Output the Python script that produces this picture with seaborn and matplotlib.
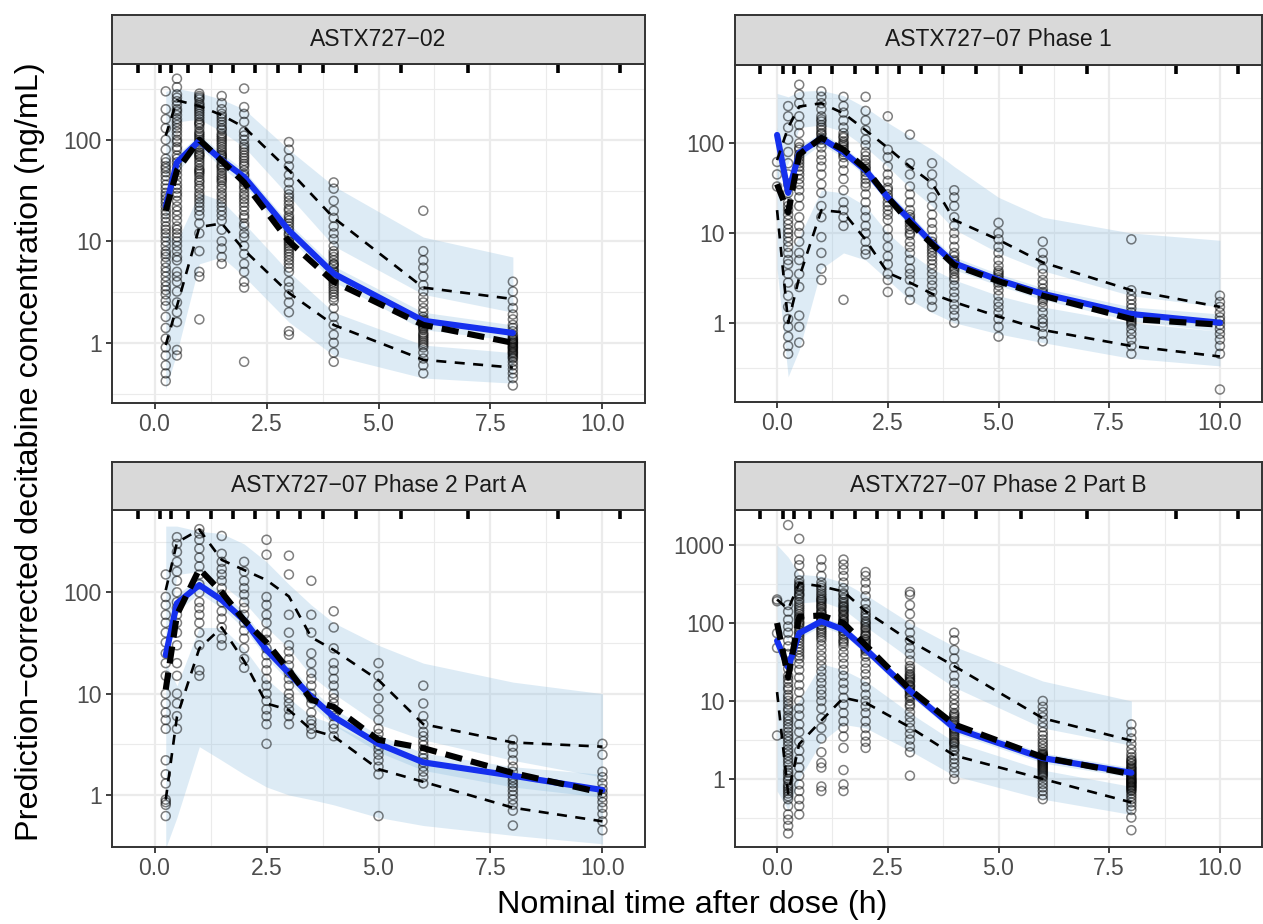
import numpy as np
import pandas as pd
import matplotlib
matplotlib.use("Agg")
import matplotlib.pyplot as plt
import seaborn as sns
from matplotlib.ticker import FixedLocator, FixedFormatter, NullFormatter

sns.set_theme(style="white")
plt.rcParams['font.family'] = ['Liberation Sans', 'DejaVu Sans']

# ---------------- data ----------------
panel_titles = ["ASTX727\u221202", "ASTX727\u221207 Phase 1",
                "ASTX727\u221207 Phase 2 Part A", "ASTX727\u221207 Phase 2 Part B"]
bin_edges = [-0.375, 0.125, 0.375, 0.75, 1.25, 1.75, 2.25, 2.75, 3.25, 3.75, 4.5, 5.5, 7.0, 9.0, 10.4]

# Panel 1: ASTX727-02
t_1 = [0.25, 0.5, 1, 1.5, 2, 3, 4, 6, 8]
simmed_1 = [22, 60, 98, 63, 43, 12.8, 4.8, 1.65, 1.25]
obsmed_1 = [20, 50, 100, 62, 38, 10, 4.0, 1.5, 1.0]
obs95_1 = [110, 245, 215, 175, 133, 50, 17, 3.5, 2.7]
obs05_1 = [0.95, 2.3, 13.8, 15, 8.2, 3.1, 1.5, 0.68, 0.57]
uphi_1 = [300, 320, 290, 250, 200, 80, 35, 11, 7]
uplo_1 = [35, 150, 160, 120, 85, 28, 9, 3.0, 2.0]
mdhi_1 = [30, 72, 112, 74, 50, 15, 5.7, 2.0, 1.5]
mdlo_1 = [15, 48, 85, 53, 36, 10.8, 4.0, 1.35, 1.05]
lohi_1 = [12, 10, 30, 25, 15, 5, 2, 0.95, 0.8]
lolo_1 = [0.35, 0.8, 6, 7, 4.5, 1.6, 0.75, 0.45, 0.4]
pts_1 = {
    0.25: [0.42, 0.5, 0.6, 0.75, 0.9, 1.1, 1.4, 1.8, 2.3, 3, 3.6, 4.5, 5.5, 7, 8, 10, 12, 14, 17, 20,
           24, 28, 33, 40, 48, 55, 65, 80, 100, 130, 160, 200, 300,
           2.6, 3.3, 4.0, 5.0, 6.2, 7.5, 9, 11, 13, 15.5, 18.5, 22, 26, 30, 36, 44, 52, 60],
    0.5: [0.75, 0.85, 1.6, 2, 2.5, 3.2, 4, 5, 6.5, 8, 10, 13, 16, 20, 25, 30, 36, 45, 55, 65, 80, 95,
          110, 130, 150, 175, 200, 240, 280, 330, 400, 12, 18, 28, 40, 60, 85, 120, 160, 220,
          4.5, 7, 9, 11, 14, 22, 33, 50, 70, 100, 140, 190, 260],
    1.0: [1.7, 4.5, 5, 8, 12, 15, 18, 22, 26, 30, 35, 40, 46, 52, 60, 68, 75, 85, 95, 105, 115, 130,
          145, 160, 180, 200, 230, 260, 285, 50, 70, 90, 110, 140, 170, 210, 250,
          20, 24, 28, 33, 38, 43, 48, 56, 64, 72, 80, 100, 120, 150, 190, 220, 270],
    1.5: [6, 7, 8.5, 10, 13, 16, 20, 24, 28, 33, 38, 44, 50, 57, 65, 72, 80, 90, 100, 110, 125, 140,
          160, 180, 200, 230, 270, 42, 55, 70, 85, 105, 130, 150,
          18, 22, 26, 30, 35, 40, 47, 53, 61, 68, 76, 95, 115, 170],
    2.0: [0.65, 3.5, 4, 5, 6, 7.5, 9, 11, 14, 17, 20, 24, 28, 33, 38, 44, 50, 58, 66, 75, 85, 100, 120,
          150, 180, 210, 320, 30, 40, 55, 70, 90, 12, 15, 18, 22, 26, 35, 46, 62, 80, 110],
    3.0: [1.2, 1.3, 2, 2.5, 3, 3.5, 4, 5, 6, 7, 8, 9, 10, 11.5, 13, 15, 17, 20, 23, 27, 32, 38, 45, 55,
          65, 80, 95, 7.5, 9.5, 12, 14, 18, 5.5, 6.5, 8.5, 10.5, 16, 21, 25, 29],
    4.0: [0.65, 0.8, 1.0, 1.2, 1.5, 1.8, 2.2, 2.6, 3, 3.4, 3.8, 4.2, 4.7, 5.2, 6, 7, 8, 9, 10.5, 12,
          14, 17, 20, 25, 33, 38, 3.2, 4.0, 4.5, 5.6, 6.5, 2.8, 3.6, 4.4, 5.0, 5.9, 7.5],
    6.0: [0.5, 0.6, 0.7, 0.8, 0.9, 1.0, 1.1, 1.2, 1.35, 1.5, 1.65, 1.8, 2.0, 2.2, 2.5, 2.8, 3.2, 3.7,
          4.5, 5.5, 6.5, 8, 20, 1.25, 1.45, 1.6, 0.95, 1.05, 1.15, 1.4, 1.55, 1.7],
    8.0: [0.38, 0.45, 0.5, 0.55, 0.6, 0.65, 0.7, 0.75, 0.8, 0.85, 0.9, 0.95, 1.0, 1.05, 1.1, 1.2, 1.3,
          1.4, 1.5, 1.7, 1.9, 2.2, 2.6, 3.2, 4.0, 0.88, 0.98, 1.15, 0.72, 0.78, 0.82, 0.92, 1.02, 1.08],
}

# Panel 2: ASTX727-07 Phase 1
t_2 = [0, 0.25, 0.5, 1, 1.5, 2, 2.5, 3, 3.5, 4, 5, 6, 8, 10]
simmed_2 = [124, 28, 78, 114, 80, 50, 25, 14, 7.7, 4.6, 3.0, 2.1, 1.25, 1.0]
obsmed_2 = [35, 17, 75, 115, 85, 52, 25, 13, 7.5, 4.4, 2.9, 2.0, 1.1, 0.95]
obs95_2 = [65, 150, 257, 280, 216, 140, 89, 55, 36, 14, 8.4, 4.7, 2.3, 1.5]
obs05_2 = [18, 1.0, 3.2, 18, 17, 8.4, 3.6, 2.8, 2.1, 1.7, 1.17, 0.83, 0.55, 0.42]
uphi_2 = [360, 330, 380, 390, 340, 250, 170, 120, 85, 55, 25, 15, 10, 8.3]
uplo_2 = [40, 60, 150, 160, 135, 90, 55, 32, 20, 11, 6, 3.8, 2.0, 1.5]
mdhi_2 = [150, 38, 92, 132, 92, 58, 29, 16.5, 9, 5.4, 3.5, 2.45, 1.5, 1.25]
mdlo_2 = [95, 20, 65, 98, 69, 43, 21.5, 12, 6.6, 3.9, 2.6, 1.8, 1.05, 0.8]
lohi_2 = [60, 6, 9, 30, 28, 20, 10, 6, 4, 3, 2, 1.5, 1.0, 0.8]
lolo_2 = [4, 0.25, 0.5, 4, 6, 5, 3, 1.8, 1.3, 1.0, 0.75, 0.6, 0.4, 0.33]
pts_2 = {
    0.0: [33, 45, 62],
    0.25: [0.45, 0.55, 0.7, 0.9, 1.1, 1.5, 2, 2.8, 3.5, 4.5, 6, 7, 9, 11, 14, 18, 22, 28, 35, 45, 60,
           80, 110, 150, 200, 260, 5, 8, 10, 12.5, 16, 20],
    0.5: [0.6, 0.9, 1.2, 2.5, 3.5, 5, 6, 8, 10, 12, 15, 20, 25, 30, 40, 50, 60, 70, 85, 100, 130, 160,
          200, 280, 350, 450, 35, 45, 55, 65, 75, 90],
    1.0: [3, 4, 6, 9, 15, 20, 28, 35, 45, 55, 65, 75, 90, 100, 115, 130, 150, 175, 200, 240, 280, 330,
          380, 110, 125, 140, 160, 185],
    1.5: [1.8, 12, 15, 18, 22, 30, 40, 50, 60, 70, 80, 90, 100, 115, 130, 150, 180, 220, 260, 330,
          75, 85, 95, 105, 120],
    2.0: [5.8, 6.5, 8, 10, 12, 15, 18, 22, 27, 33, 40, 48, 55, 65, 80, 95, 110, 140, 180, 230, 330,
          36, 44, 52, 60, 72],
    2.5: [2.2, 3, 3.5, 4.5, 5.5, 7, 9, 11, 14, 18, 22, 27, 32, 38, 45, 55, 70, 85, 200, 16, 20, 25, 30],
    3.0: [1.8, 2.2, 3, 3.5, 4, 5, 6, 7, 8, 9.5, 11, 13, 15, 18, 22, 27, 33, 45, 60, 125, 10, 12, 14, 16],
    3.5: [1.5, 1.8, 2.2, 2.6, 3, 3.5, 4, 5, 6, 7, 8, 9, 11, 13, 16, 20, 25, 35, 45, 60, 4.5, 5.5, 6.5, 7.5],
    4.0: [1.0, 1.2, 1.4, 1.6, 1.9, 2.2, 2.6, 3, 3.5, 4, 4.5, 5, 6, 7, 8.5, 10, 12, 15, 20, 25, 30,
          3.2, 3.8, 4.2, 4.8, 5.5],
    5.0: [0.7, 0.9, 1.1, 1.3, 1.5, 1.7, 2, 2.3, 2.6, 3, 3.4, 3.8, 4.3, 5, 6, 7, 8.5, 10, 13, 2.8, 3.2, 3.6],
    6.0: [0.62, 0.75, 0.9, 1.0, 1.1, 1.3, 1.5, 1.7, 1.9, 2.1, 2.4, 2.7, 3, 3.5, 4, 5, 6, 8, 1.8, 2.0, 2.2],
    8.0: [0.45, 0.55, 0.65, 0.75, 0.85, 0.95, 1.05, 1.15, 1.3, 1.45, 1.6, 1.8, 2.0, 2.3, 8.5, 1.0, 1.1, 1.2],
    10.0: [0.18, 0.45, 0.55, 0.65, 0.75, 0.85, 0.95, 1.05, 1.15, 1.3, 1.5, 1.7, 2.0],
}

# Panel 3: ASTX727-07 Phase 2 Part A
t_3 = [0.25, 0.5, 1, 1.5, 2, 2.5, 3, 3.5, 4, 5, 6, 8, 10]
simmed_3 = [24, 78, 118, 84, 53, 27, 15.9, 9.3, 5.9, 3.2, 2.1, 1.55, 1.12]
obsmed_3 = [11, 60, 170, 100, 53, 32, 17, 8.7, 7.4, 3.5, 2.9, 1.65, 1.05]
obs95_3 = [105, 310, 415, 209, 166, 132, 91, 36, 27, 13.6, 5.0, 3.3, 3.0]
obs05_3 = [0.9, 5.9, 28, 45, 21, 8, 6.9, 4.4, 3.8, 1.8, 1.35, 0.75, 0.55]
uphi_3 = [450, 450, 400, 380, 300, 200, 120, 75, 50, 30, 20, 13, 10]
uplo_3 = [25, 150, 160, 120, 80, 45, 28, 15, 10, 5, 3.5, 2.2, 1.5]
mdhi_3 = [29, 94, 142, 101, 64, 32, 19, 11.2, 7.1, 3.9, 2.6, 1.9, 1.6]
mdlo_3 = [20, 65, 98, 70, 44, 22.5, 13.2, 7.7, 4.9, 2.65, 1.75, 1.2, 0.95]
lohi_3 = [20, 12, 45, 45, 28, 14, 9, 6, 5, 3, 2.2, 1.5, 1.1]
lolo_3 = [0.3, 0.6, 3, 2.2, 1.6, 1.2, 1.0, 0.9, 0.8, 0.6, 0.5, 0.4, 0.33]
pts_3 = {
    0.25: [0.62, 0.8, 0.85, 0.9, 1.3, 1.6, 2.2, 4.5, 5.5, 6.5, 8, 10, 15, 20, 25, 32, 40, 50, 60, 75, 90, 150],
    0.5: [4.5, 6, 8, 10, 15, 20, 30, 40, 50, 60, 70, 80, 100, 130, 160, 200, 250, 300, 350],
    1.0: [15, 17, 30, 40, 50, 60, 70, 80, 100, 120, 150, 180, 220, 270, 330, 380, 420],
    1.5: [30, 35, 45, 55, 65, 80, 95, 110, 130, 150, 170, 200, 240, 360],
    2.0: [18, 22, 28, 35, 42, 50, 60, 70, 80, 95, 110, 130, 160, 200],
    2.5: [3.2, 5, 6, 7, 8.5, 10, 12, 14, 17, 20, 24, 28, 34, 40, 50, 60, 75, 90, 235, 330],
    3.0: [5, 6, 7, 8, 9, 10, 12, 14, 16, 19, 22, 26, 30, 40, 60, 150, 230],
    3.5: [4, 4.5, 5, 5.5, 6.5, 8, 9, 10, 12, 14, 16, 20, 25, 40, 60, 130],
    4.0: [3.8, 4.5, 5, 6, 7, 8, 9, 10, 12, 14, 17, 20, 28, 45, 65],
    5.0: [0.62, 1.6, 1.9, 2.2, 2.5, 2.8, 3.1, 3.5, 4, 4.5, 5.5, 7, 9, 12, 15, 20],
    6.0: [1.3, 1.5, 1.7, 1.9, 2.1, 2.3, 2.5, 2.8, 3.1, 3.4, 3.8, 4.2, 5, 6, 8, 12],
    8.0: [0.5, 0.7, 0.8, 0.9, 1.0, 1.1, 1.2, 1.3, 1.4, 1.5, 1.7, 1.9, 2.2, 2.6, 3.0, 3.5],
    10.0: [0.45, 0.55, 0.65, 0.75, 0.85, 0.95, 1.05, 1.15, 1.3, 1.5, 1.7, 2.5, 3.2],
}

# Panel 4: ASTX727-07 Phase 2 Part B
t_4 = [0, 0.25, 0.5, 1, 1.5, 2, 3, 4, 6, 8]
simmed_4 = [59, 27, 74, 105, 82, 46, 13.5, 4.5, 1.85, 1.2]
obsmed_4 = [100, 20, 120, 125, 100, 52, 14, 5.0, 1.9, 1.15]
obs95_4 = [200, 150, 325, 295, 253, 141, 59, 28, 6, 3.1]
obs05_4 = [13, 0.65, 2.8, 5.6, 11, 9.5, 4.6, 2.0, 1.0, 0.5]
uphi_4 = [1000, 700, 420, 400, 330, 230, 100, 50, 18, 10]
uplo_4 = [80, 60, 180, 190, 150, 90, 35, 15, 4.5, 2.7]
mdhi_4 = [70, 32, 85, 120, 94, 53, 15.5, 5.2, 2.15, 1.4]
mdlo_4 = [50, 23, 64, 91, 71, 40, 11.7, 3.9, 1.6, 1.05]
lohi_4 = [60, 8, 10, 30, 25, 18, 7, 3, 1.3, 0.8]
lolo_4 = [0.7, 0.4, 1, 3, 5, 4.5, 2.3, 1.1, 0.55, 0.35]
pts_4 = {
    0.0: [3.6, 48, 74, 190, 200],
    0.25: [0.2, 0.25, 0.3, 0.35, 0.45, 0.55, 0.65, 0.75, 0.85, 1.0, 1.2, 1.5, 1.8, 2.2, 2.7, 3.3, 4, 5,
           6, 7.5, 9, 11, 14, 17, 21, 26, 32, 40, 50, 60, 75, 90, 110, 140, 170, 1800,
           1.1, 2.0, 3.0, 4.5, 8, 12, 19, 30, 0.6, 0.7, 0.8, 0.95, 1.3, 1.65, 2.4, 3.6, 5.5, 6.5, 10, 15],
    0.5: [0.35, 0.45, 0.55, 0.7, 0.85, 1.1, 1.4, 1.8, 2.3, 3, 4, 5, 6.5, 8, 10, 13, 16, 20, 25, 30,
          38, 46, 55, 65, 80, 95, 115, 140, 170, 200, 240, 290, 350, 420, 550, 650, 1200,
          35, 50, 70, 100, 130, 160, 220, 270, 320, 42, 60, 75, 88, 105, 120, 150, 185, 230, 260, 300],
    1.0: [0.7, 0.8, 1.4, 1.6, 2.2, 3.3, 4.5, 6, 8, 10, 12, 14, 17, 20, 24, 28, 33, 38, 45, 52, 60, 70,
          80, 92, 105, 120, 140, 160, 185, 210, 240, 280, 330, 400, 520, 650,
          65, 85, 110, 130, 150, 175, 200, 260, 75, 95, 115, 135, 165, 195, 225, 300],
    1.5: [0.7, 0.85, 1.3, 2.5, 3.5, 4.5, 5.5, 7, 9, 11, 14, 17, 21, 25, 30, 36, 42, 50, 58, 68, 78, 90,
          105, 120, 140, 160, 185, 210, 240, 280, 330, 400, 480, 560, 650,
          55, 72, 85, 98, 112, 130, 150, 175, 200, 62, 80, 92, 108, 125, 145, 165, 230],
    2.0: [2.5, 3, 3.6, 4.5, 5.5, 7, 8.5, 10, 12, 15, 18, 22, 26, 31, 37, 44, 52, 62, 74, 88, 105, 125,
          150, 180, 220, 270, 330, 400, 450, 48, 57, 68, 80, 95, 115, 135, 40, 46, 54, 60, 70, 85, 100],
    3.0: [1.1, 2.2, 2.6, 3.2, 3.8, 4.5, 5.3, 6.2, 7.2, 8.5, 10, 11.5, 13, 15, 17.5, 20, 24, 28, 33, 40,
          48, 60, 75, 95, 130, 170, 230, 250, 9, 12, 14, 16, 19, 22, 26, 11, 13.5, 15.5, 18, 21],
    4.0: [1.0, 1.2, 1.4, 1.6, 1.8, 2.0, 2.3, 2.6, 2.9, 3.2, 3.6, 4, 4.5, 5, 5.6, 6.3, 7, 8, 9, 10.5,
          12, 14, 17, 21, 27, 35, 45, 60, 75, 3.4, 3.8, 4.2, 4.8, 5.3, 6.0, 6.7, 2.4, 2.8, 3.0, 4.4],
    6.0: [0.55, 0.62, 0.7, 0.78, 0.86, 0.95, 1.05, 1.15, 1.25, 1.4, 1.55, 1.7, 1.85, 2.0, 2.2, 2.4,
          2.65, 2.9, 3.2, 3.6, 4, 4.6, 5.3, 6.2, 7.2, 8.4, 10, 1.3, 1.5, 1.65, 1.8, 1.95, 2.1,
          1.1, 1.2, 1.35, 1.45, 1.6, 1.75, 1.9, 2.05],
    8.0: [0.22, 0.32, 0.4, 0.45, 0.5, 0.55, 0.6, 0.65, 0.7, 0.75, 0.8, 0.85, 0.9, 0.95, 1.0, 1.08, 1.16,
          1.25, 1.35, 1.45, 1.6, 1.75, 1.9, 2.1, 2.4, 2.8, 3.3, 4.0, 5.0, 0.88, 0.98, 1.04, 1.12, 1.2,
          0.72, 0.78, 0.82, 0.92, 1.3, 1.4, 1.55, 1.7],
}

panel_data = [
    (t_1, simmed_1, obsmed_1, obs95_1, obs05_1, uphi_1, uplo_1, mdhi_1, mdlo_1, lohi_1, lolo_1, pts_1),
    (t_2, simmed_2, obsmed_2, obs95_2, obs05_2, uphi_2, uplo_2, mdhi_2, mdlo_2, lohi_2, lolo_2, pts_2),
    (t_3, simmed_3, obsmed_3, obs95_3, obs05_3, uphi_3, uplo_3, mdhi_3, mdlo_3, lohi_3, lolo_3, pts_3),
    (t_4, simmed_4, obsmed_4, obs95_4, obs05_4, uphi_4, uplo_4, mdhi_4, mdlo_4, lohi_4, lolo_4, pts_4),
]

y_limits = [(0.257, 558), (0.1316, 747), (0.309, 649), (0.134, 2810)]
y_ticks = [[1, 10, 100], [1, 10, 100], [1, 10, 100], [1, 10, 100, 1000]]
x_ticks = [0, 2.5, 5, 7.5, 10]
x_tick_labels = ["0.0", "2.5", "5.0", "7.5", "10.0"]

# ---------------- layout (pixels) ----------------
W, H = 1263, 924
panel_px = [(112, 645, 64, 402.7), (735, 1262, 65, 401.7),
            (112, 645, 510, 846.7), (735, 1262, 510, 847)]
strip_px = [(15, 64), (15, 65), (462, 510), (462, 510)]

fig = plt.figure(figsize=(W / 100, H / 100), dpi=100)

band_color = "#8fbfe0"
band_alpha = 0.30
grid_col = "#EBEBEB"
frame_col = "#333333"
tick_col = "#4D4D4D"

for i, (pd_, (l, r, t, b), (st, sb)) in enumerate(zip(panel_data, panel_px, strip_px)):
    (tt, simmed, obsmed, obs95, obs05, uphi, uplo, mdhi, mdlo, lohi, lolo, pts) = pd_
    ax = fig.add_axes([l / W, 1 - b / H, (r - l) / W, (b - t) / H])
    ax.set_yscale("log")
    ax.set_xlim(-0.95, 10.95)
    ax.set_ylim(*y_limits[i])
    ax.set_facecolor("white")

    # grid
    ylo, yhi = y_limits[i]
    minor_y = [10 ** (k + 0.5) for k in range(-2, 4) if ylo < 10 ** (k + 0.5) < yhi]
    ax.xaxis.set_major_locator(FixedLocator(x_ticks))
    ax.xaxis.set_major_formatter(FixedFormatter(x_tick_labels))
    ax.xaxis.set_minor_locator(FixedLocator([1.25, 3.75, 6.25, 8.75]))
    ax.yaxis.set_major_locator(FixedLocator(y_ticks[i]))
    ax.yaxis.set_major_formatter(FixedFormatter([str(v) for v in y_ticks[i]]))
    ax.yaxis.set_minor_locator(FixedLocator(minor_y))
    ax.yaxis.set_minor_formatter(NullFormatter())
    ax.grid(True, which="major", color=grid_col, lw=1.6, zorder=0)
    ax.grid(True, which="minor", color=grid_col, lw=0.8, zorder=0)
    ax.set_axisbelow(True)
    ax.tick_params(which="minor", length=0)
    ax.tick_params(which="major", length=4.5, width=1.3, color=frame_col,
                   labelsize=16.5, labelcolor=tick_col, pad=3)
    ax.tick_params(axis="x", bottom=True, top=False)
    ax.tick_params(axis="y", left=True, right=False)
    for sp in ax.spines.values():
        sp.set_color(frame_col)
        sp.set_linewidth(1.4)
        sp.set_visible(True)

    # bands
    ax.fill_between(tt, uplo, uphi, color=band_color, alpha=band_alpha, lw=0, zorder=1)
    ax.fill_between(tt, mdlo, mdhi, color=band_color, alpha=band_alpha, lw=0, zorder=1)
    ax.fill_between(tt, lolo, lohi, color=band_color, alpha=band_alpha, lw=0, zorder=1)

    # observations
    obs_df = pd.DataFrame([(tk, v) for tk, vals in pts.items() for v in vals], columns=["time", "conc"])
    sns.scatterplot(data=obs_df, x="time", y="conc", ax=ax, marker="o", s=42,
                    legend=False, zorder=2)
    coll = ax.collections[-1]
    coll.set_facecolor("none")
    coll.set_edgecolor((0.0, 0.0, 0.0, 0.5))
    coll.set_linewidth(1.1)

    # lines
    sns.lineplot(x=tt, y=simmed, ax=ax, color="#1530ee", linewidth=4.4, errorbar=None,
                 sort=False, zorder=3)
    sns.lineplot(x=tt, y=obsmed, ax=ax, color="black", linewidth=4.4, errorbar=None, sort=False,
                 linestyle=(0, (2.8, 1.5)), zorder=4)
    sns.lineplot(x=tt, y=obs95, ax=ax, color="black", linewidth=1.9, errorbar=None, sort=False,
                 linestyle=(0, (3.8, 3.2)), zorder=4)
    sns.lineplot(x=tt, y=obs05, ax=ax, color="black", linewidth=1.9, errorbar=None, sort=False,
                 linestyle=(0, (3.8, 3.2)), zorder=4)

    # bin rug at top
    ax.vlines(bin_edges, 0.973, 1.0, transform=ax.get_xaxis_transform(), color="black",
              lw=2.6, zorder=5, clip_on=False)

    ax.set_xlabel("")
    ax.set_ylabel("")

    # strip
    sax = fig.add_axes([l / W, 1 - sb / H, (r - l) / W, (sb - st) / H])
    sax.set_facecolor("#D9D9D9")
    sax.set_xticks([])
    sax.set_yticks([])
    for sp in sax.spines.values():
        sp.set_color(frame_col)
        sp.set_linewidth(1.4)
        sp.set_visible(True)
    sax.text(0.5, 0.5, panel_titles[i], ha="center", va="center", fontsize=16.5,
             color="#1A1A1A", transform=sax.transAxes)

fig.text(692 / W, 1 - 905 / H, "Nominal time after dose (h)", ha="center", va="center",
         fontsize=23.3, color="black")
fig.text(30 / W, 1 - 452 / H, "Prediction\u2212corrected decitabine concentration (ng/mL)",
         ha="center", va="center", rotation=90, fontsize=23.3, color="black")

fig.savefig("out.png", dpi=100)
